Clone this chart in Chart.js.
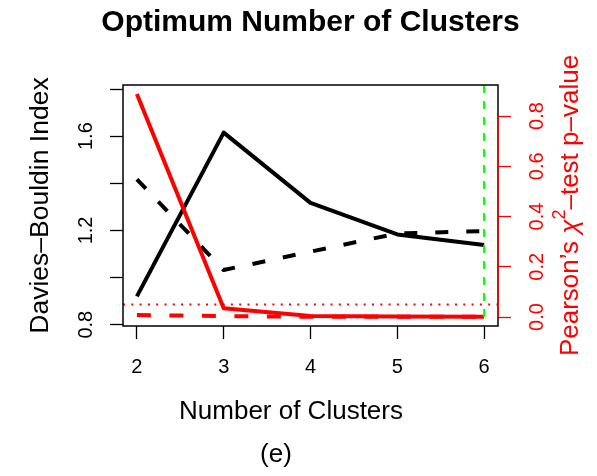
<!DOCTYPE html>
<html>
<head>
<meta charset="utf-8">
<script src="https://cdn.jsdelivr.net/npm/chart.js@4"></script>
<style>
  html, body { margin: 0; padding: 0; background: #fff; }
  #wrap { width: 597px; height: 476px; }
</style>
</head>
<body>
<div id="wrap"><canvas id="chartDB" width="597" height="476"></canvas></div>
<script>
// number of clusters tried
const clusters = [2, 3, 4, 5, 6];
// Davies-Bouldin index (left axis)
const dbSolid  = [0.92, 1.615, 1.317, 1.183, 1.138];
const dbDashed = [1.417, 1.032, 1.11, 1.187, 1.197];
// chi-square test p-values (right axis)
const pSolid  = [0.888, 0.035, 0.004, 0.002, 0.001];
const pDashed = [0.008, 0.004, 0.001, 0.001, 0.001];
const pThreshold = 0.05;
const bestK = 6;
// tick labels
const xTicks  = [2, 3, 4, 5, 6];
const dbTicks = [0.8, 1.2, 1.6];
const pTicks  = [0.0, 0.2, 0.4, 0.6, 0.8];

const FONT = '"Liberation Sans", Arial, Helvetica, sans-serif';
const RED = '#ff0000';

const pts = (ys) => clusters.map((k, i) => ({ x: k, y: ys[i] }));

function line(data, color, axis, dash, width) {
  return {
    data: pts(data),
    yAxisID: axis,
    borderColor: color,
    borderWidth: width,
    borderDash: dash,
    borderJoinStyle: 'round',
    pointRadius: 0,
    tension: 0,
    fill: false
  };
}

// rotated text helper (reads bottom to top)
function vText(ctx, txt, x, y) {
  ctx.save();
  ctx.translate(x, y);
  ctx.rotate(-Math.PI / 2);
  ctx.fillText(txt, 0, 0);
  ctx.restore();
}

const rPlot = {
  id: 'rPlot',
  afterDatasetsDraw(chart) {
    const { ctx, chartArea: a, scales } = chart;
    ctx.save();
    ctx.beginPath();
    ctx.rect(a.left, a.top, a.right - a.left, a.bottom - a.top);
    ctx.clip();
    // significance level
    const yT = scales.y2.getPixelForValue(pThreshold);
    ctx.strokeStyle = RED;
    ctx.lineWidth = 2;
    ctx.setLineDash([2, 6.3]);
    ctx.beginPath();
    ctx.moveTo(a.left, yT);
    ctx.lineTo(a.right, yT);
    ctx.stroke();
    // chosen number of clusters
    const xK = scales.x.getPixelForValue(bestK);
    ctx.strokeStyle = '#00ff00';
    ctx.setLineDash([8, 8]);
    ctx.beginPath();
    ctx.moveTo(xK, a.top);
    ctx.lineTo(xK, a.bottom);
    ctx.stroke();
    ctx.restore();
  },
  afterDraw(chart) {
    const { ctx, chartArea: a, scales } = chart;
    const cx = (a.left + a.right) / 2;
    const cy = (a.top + a.bottom) / 2;
    ctx.save();
    // box
    ctx.strokeStyle = '#000';
    ctx.lineWidth = 1.5;
    ctx.strokeRect(a.left, a.top, a.right - a.left, a.bottom - a.top);
    // right axis line
    ctx.strokeStyle = RED;
    ctx.beginPath();
    ctx.moveTo(a.right, scales.y2.getPixelForValue(pTicks[0]));
    ctx.lineTo(a.right, scales.y2.getPixelForValue(pTicks[pTicks.length - 1]));
    ctx.stroke();

    ctx.textAlign = 'center';

    // title
    ctx.fillStyle = '#000';
    ctx.font = 'bold 30px ' + FONT;
    ctx.textBaseline = 'alphabetic';
    ctx.fillText('Optimum Number of Clusters', cx, 31);
    ctx.textBaseline = 'middle';

    // x axis
    ctx.font = '20px ' + FONT;
    xTicks.forEach(v => ctx.fillText(String(v), scales.x.getPixelForValue(v), 367));
    ctx.font = '26px ' + FONT;
    ctx.fillText('Number of Clusters', 291, 412);
    ctx.fillText('(e)', 276, 455);

    // left axis
    ctx.font = '20px ' + FONT;
    dbTicks.forEach(v => vText(ctx, v.toFixed(1), 86, scales.y.getPixelForValue(v)));
    ctx.font = '26.5px ' + FONT;
    vText(ctx, 'Davies\u2013Bouldin Index', 41, cy);

    // right axis
    ctx.fillStyle = RED;
    ctx.font = '20px ' + FONT;
    pTicks.forEach(v => vText(ctx, v.toFixed(1), 537, scales.y2.getPixelForValue(v)));

    const big = '26px ' + FONT, small = '18px ' + FONT;
    const parts = [
      { t: 'Pearson\u2019s ', f: big, dy: 0 },
      { t: '\u03c7', f: 'italic ' + big, dy: 0 },
      { t: '2', f: small, dy: -11 },
      { t: '\u2013test p\u2013value', f: big, dy: 0 }
    ];
    let total = 0;
    parts.forEach(p => { ctx.font = p.f; p.w = ctx.measureText(p.t).width; total += p.w; });
    ctx.save();
    ctx.translate(571, cy);
    ctx.rotate(-Math.PI / 2);
    ctx.textAlign = 'left';
    let x0 = -total / 2;
    parts.forEach(p => {
      ctx.font = p.f;
      ctx.fillText(p.t, x0, p.dy);
      x0 += p.w;
    });
    ctx.restore();
    ctx.restore();
  }
};

new Chart(document.getElementById('chartDB'), {
  type: 'line',
  data: {
    datasets: [
      line(pSolid, RED, 'y2', [], 4),
      line(pDashed, RED, 'y2', [14, 18.5], 4),
      line(dbSolid, '#000', 'y', [], 4),
      line(dbDashed, '#000', 'y', [13, 18], 4)
    ]
  },
  options: {
    responsive: false,
    devicePixelRatio: 1,
    animation: false,
    layout: { padding: { top: 85, left: 0, right: 0, bottom: 0 } },
    plugins: { legend: { display: false }, tooltip: { enabled: false } },
    scales: {
      x: {
        type: 'linear',
        position: 'bottom',
        min: 1.84,
        max: 6.16,
        ticks: { display: false, stepSize: 1, includeBounds: false },
        grid: { drawOnChartArea: false, tickLength: 13, tickColor: '#000', tickWidth: 1.3 },
        border: { display: false },
        afterFit(s) { s.height = 150; }
      },
      y: {
        type: 'linear',
        position: 'left',
        min: 0.7945,
        max: 1.817,
        ticks: { display: false, stepSize: 0.2, includeBounds: false },
        grid: { drawOnChartArea: false, tickLength: 13, tickColor: '#000', tickWidth: 1.3 },
        border: { display: false },
        afterFit(s) { s.width = 123; }
      },
      y2: {
        type: 'linear',
        position: 'right',
        min: -0.0355,
        max: 0.9235,
        ticks: { display: false, stepSize: 0.2, includeBounds: false },
        grid: { drawOnChartArea: false, tickLength: 13, tickColor: RED, tickWidth: 1.3 },
        border: { display: false },
        afterFit(s) { s.width = 99; }
      }
    }
  },
  plugins: [rPlot]
});
</script>
</body>
</html>
